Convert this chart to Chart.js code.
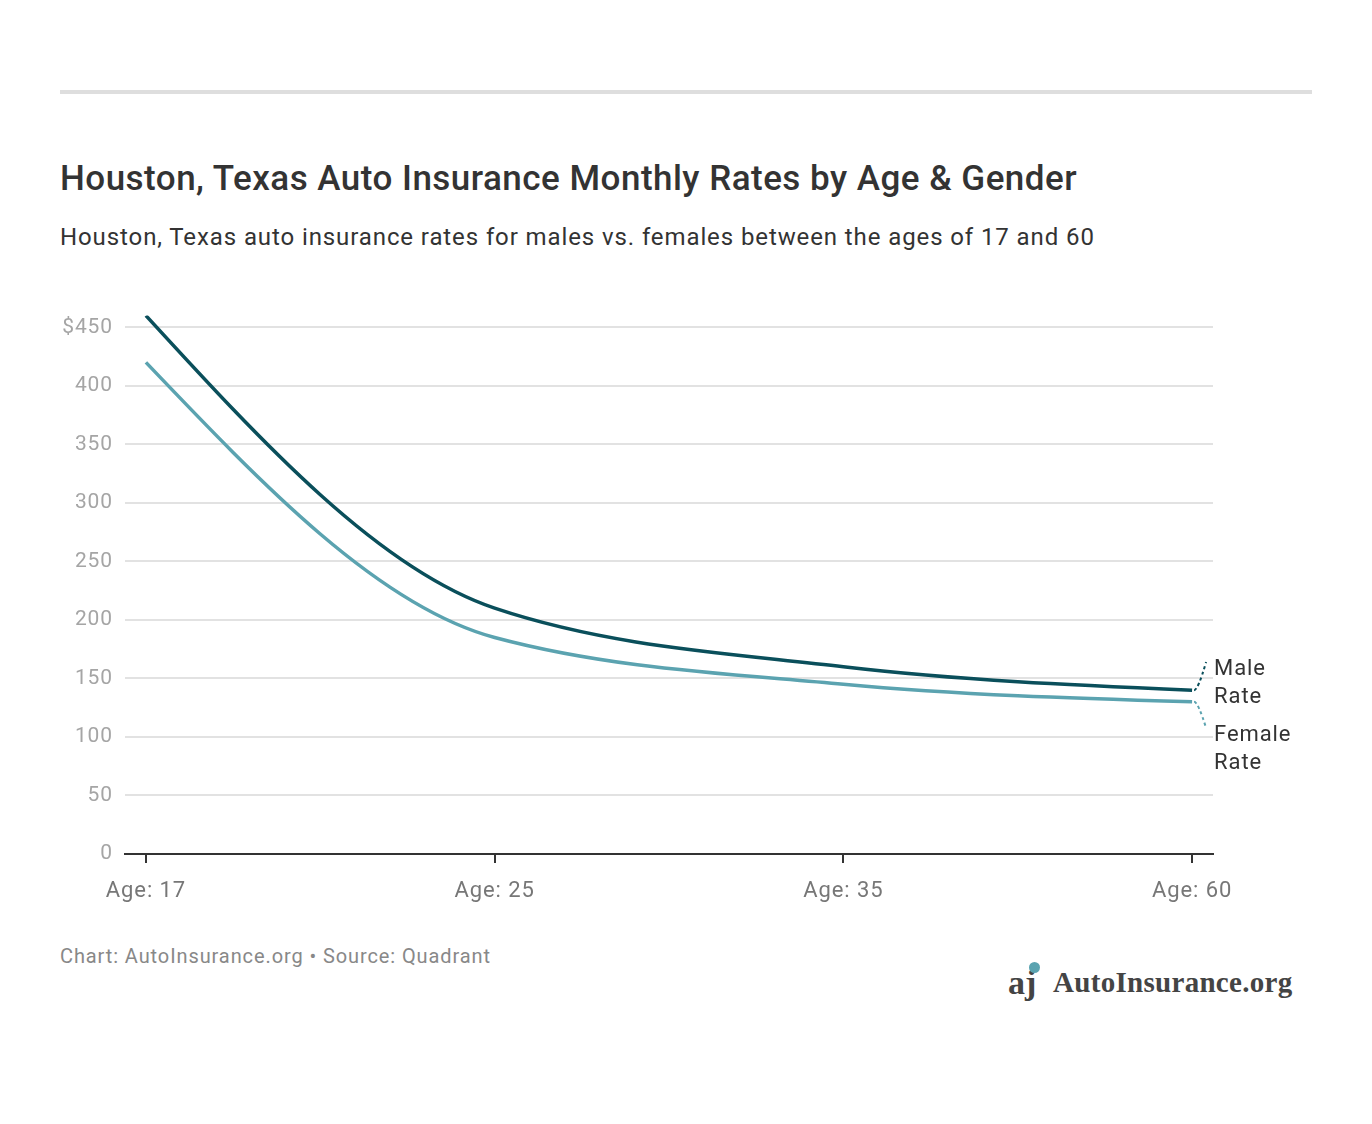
<!DOCTYPE html>
<html>
<head>
<meta charset="utf-8">
<script src="https://cdn.jsdelivr.net/npm/chart.js@4"></script>
<style>
  body { margin: 0; background: #fff; font-family: Roboto, "Noto Sans", sans-serif; }
  .page { position: relative; width: 1372px; height: 1124px; }
  .topbar { position: absolute; left: 60px; top: 90px; width: 1252px; height: 4px; background: #dedede; }
  h1 { position: absolute; left: 60px; top: 158px; margin: 0; font-size: 35px; font-weight: 500; color: #333; letter-spacing: 0.48px; }
  .sub { position: absolute; left: 60px; top: 223px; font-size: 24px; color: #333; letter-spacing: 0.9px; }
  .chart-box { position: absolute; left: 0; top: 291px; width: 1372px; height: 629px; }
  .foot { position: absolute; left: 60px; top: 944px; font-size: 20px; color: #888; letter-spacing: 0.9px; }
  .logo { position: absolute; left: 1008px; top: 962px; height: 40px; display: flex; align-items: center; }
  .logo .icon { position: relative; width: 36px; height: 40px; margin-right: 9px; }
  .logo .icon .dot { position: absolute; left: 21px; top: 0; width: 11px; height: 11px; border-radius: 50%; background: #5aa3b0; }
  .logo .icon .a { position: absolute; left: 0; top: 2px; font: 700 34px "Liberation Serif", "DejaVu Serif", serif; color: #444; }
  .logo .txt { font: 700 29px "Liberation Serif", "DejaVu Serif", serif; color: #444; letter-spacing: 0.3px; }
</style>
</head>
<body>
<div class="page">
  <div class="topbar"></div>
  <h1>Houston, Texas Auto Insurance Monthly Rates by Age &amp; Gender</h1>
  <div class="sub">Houston, Texas auto insurance rates for males vs. females between the ages of 17 and 60</div>
  <div class="chart-box"><canvas id="rates"></canvas></div>
  <div class="foot">Chart: AutoInsurance.org • Source: Quadrant</div>
  <div class="logo">
    <div class="icon"><span class="a">aj</span><span class="dot"></span></div>
    <span class="txt">AutoInsurance.org</span>
  </div>
</div>
<script>
const ages = ['Age: 17', 'Age: 25', 'Age: 35', 'Age: 60'];
const maleRates = [460, 210, 160, 140];
const femaleRates = [420, 185, 145, 130];
const yTicks = [0, 50, 100, 150, 200, 250, 300, 350, 400, 450];

const maleColor = '#0a4f5b';
const femaleColor = '#5ba3b0';

// a bit of tracking on canvas text, like the original
const spacing = {
  id: 'spacing',
  beforeInit(c) { c.ctx.letterSpacing = '0.9px'; },
  beforeDraw(c) { c.ctx.letterSpacing = '0.9px'; }
};

// monotone-x smoothing (d3 style) instead of chart.js' own monotone tangents
const sign = v => (v < 0 ? -1 : 1);
const smoothing = {
  id: 'smoothing',
  beforeDatasetsDraw(c) {
    c.getSortedVisibleDatasetMetas().forEach(meta => {
      const line = meta.dataset;
      line.updateControlPoints(c.chartArea, 'x');
      const pts = line.points;
      const n = pts.length;
      if (n < 3) return;
      const t = new Array(n);
      for (let i = 1; i < n - 1; i++) {
        const h0 = pts[i].x - pts[i - 1].x, h1 = pts[i + 1].x - pts[i].x;
        const s0 = (pts[i].y - pts[i - 1].y) / h0, s1 = (pts[i + 1].y - pts[i].y) / h1;
        const p = (s0 * h1 + s1 * h0) / (h0 + h1);
        t[i] = (sign(s0) + sign(s1)) * Math.min(Math.abs(s0), Math.abs(s1), 0.5 * Math.abs(p)) || 0;
      }
      t[0] = (3 * (pts[1].y - pts[0].y) / (pts[1].x - pts[0].x) - t[1]) / 2;
      t[n - 1] = (3 * (pts[n - 1].y - pts[n - 2].y) / (pts[n - 1].x - pts[n - 2].x) - t[n - 2]) / 2;
      for (let i = 0; i < n; i++) {
        if (i > 0) {
          const d = (pts[i].x - pts[i - 1].x) / 3;
          pts[i].cp1x = pts[i].x - d;
          pts[i].cp1y = pts[i].y - d * t[i];
        }
        if (i < n - 1) {
          const d = (pts[i + 1].x - pts[i].x) / 3;
          pts[i].cp2x = pts[i].x + d;
          pts[i].cp2y = pts[i].y + d * t[i];
        }
      }
      line._path = undefined;
    });
  }
};

// end-of-line labels with dotted leaders
const endLabels = {
  id: 'endLabels',
  afterDatasetsDraw(c) {
    const { ctx } = c;
    const x = c.scales.x, y = c.scales.y;
    const last = ages.length - 1;
    const px = x.getPixelForValue(last);
    const items = [
      { v: maleRates[last], color: maleColor, lines: ['Male', 'Rate'], ty: 669, ly: 662 },
      { v: femaleRates[last], color: femaleColor, lines: ['Female', 'Rate'], ty: 735, ly: 728 }
    ];
    const top = c.canvas.getBoundingClientRect().top + window.scrollY;
    ctx.save();
    items.forEach(it => {
      const py = y.getPixelForValue(it.v);
      const ly = it.ly - top;
      ctx.strokeStyle = it.color;
      ctx.lineWidth = 2;
      ctx.setLineDash([3, 3]);
      ctx.beginPath();
      ctx.moveTo(px + 2, py);
      ctx.quadraticCurveTo(px + 6, py, px + 14, ly);
      ctx.stroke();
      ctx.setLineDash([]);
      ctx.fillStyle = '#333';
      ctx.font = '22px Roboto, "Noto Sans", sans-serif';
      ctx.textBaseline = 'middle';
      ctx.textAlign = 'left';
      it.lines.forEach((s, i) => ctx.fillText(s, px + 22, it.ty - top + i * 28));
    });
    ctx.restore();
  }
};

new Chart(document.getElementById('rates'), {
  type: 'line',
  data: {
    datasets: [
      {
        label: 'Male Rate',
        data: maleRates.map((v, i) => ({ x: i, y: v })),
        borderColor: maleColor,
        borderWidth: 3.5,
        pointRadius: 0,
        cubicInterpolationMode: 'monotone'
      },
      {
        label: 'Female Rate',
        data: femaleRates.map((v, i) => ({ x: i, y: v })),
        borderColor: femaleColor,
        borderWidth: 3.5,
        pointRadius: 0,
        cubicInterpolationMode: 'monotone'
      }
    ]
  },
  options: {
    responsive: true,
    maintainAspectRatio: false,
    animation: false,
    layout: { padding: { top: 4, right: 159, left: 0, bottom: 0 } },
    plugins: { legend: { display: false }, tooltip: { enabled: false } },
    scales: {
      x: {
        type: 'linear',
        min: -0.06,
        max: 3.06,
        afterBuildTicks: a => { a.ticks = ages.map((_, i) => ({ value: i })); },
        afterFit: a => { a.height = 66; },
        grid: { drawOnChartArea: false, drawTicks: true, tickLength: 9, color: '#333', lineWidth: 2 },
        border: { display: true, color: '#333', width: 2 },
        ticks: {
          padding: 15,
          color: '#777',
          font: { size: 22, family: 'Roboto' },
          callback: v => ages[v]
        }
      },
      y: {
        min: 0,
        max: 460,
        afterBuildTicks: a => { a.ticks = yTicks.map(v => ({ value: v })); },
        afterFit: a => { a.width = 125; },
        grid: { color: '#e2e2e2', lineWidth: 2, drawTicks: false },
        border: { display: false },
        ticks: {
          padding: 12,
          color: '#a5a5a5',
          font: { size: 21, family: 'Roboto' },
          callback: v => v === 450 ? '$450' : v
        }
      }
    }
  },
  plugins: [spacing, smoothing, endLabels]
});
</script>
</body>
</html>
